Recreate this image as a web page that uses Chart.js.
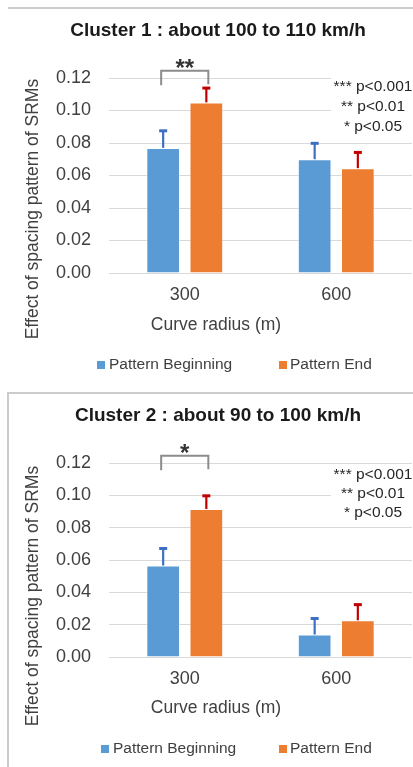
<!DOCTYPE html>
<html>
<head>
<meta charset="utf-8">
<script src="https://cdn.jsdelivr.net/npm/chart.js@4/dist/chart.umd.min.js"></script>
<style>
  html, body { margin: 0; padding: 0; background: #fff; }
  body { width: 413px; height: 767px; position: relative; overflow: hidden; }
  .frame { position: absolute; box-sizing: border-box; }
  #frame1 { left: 8px; top: 7px; width: 405px; height: 2px; background: #cccccc; }
  #frame2 { left: 7px; top: 392px; width: 406px; height: 375px; border-top: 2px solid #cccccc; border-left: 2px solid #cccccc; }
  canvas { position: absolute; left: 0; }
  #chart1 { top: 0; }
  #chart2 { top: 386px; }
</style>
</head>
<body>
<div class="frame" id="frame1"></div>
<div class="frame" id="frame2"></div>
<canvas id="chart1" width="413" height="386"></canvas>
<canvas id="chart2" width="413" height="381"></canvas>
<script>
// categories and series
const categories = ['300', '600'];
const seriesNames = ['Pattern Beginning', 'Pattern End'];

// Cluster 1 : about 100 to 110 km/h
const c1Beginning = [0.077, 0.070];
const c1BeginningErr = [0.0105, 0.0098];
const c1End = [0.105, 0.0645];
const c1EndErr = [0.0088, 0.0097];

// Cluster 2 : about 90 to 100 km/h
const c2Beginning = [0.0566, 0.0139];
const c2BeginningErr = [0.0105, 0.0099];
const c2End = [0.0915, 0.0227];
const c2EndErr = [0.0082, 0.0097];

const yMax = 0.12;
const yStep = 0.02;
const sigNotes = ['*** p<0.001', '** p<0.01', '* p<0.05'];

const FONT = "'Liberation Sans', Arial, sans-serif";
const BLUE = '#5b9bd5';
const ORANGE = '#ed7d31';
const TEXT = '#404040';

function makeChart(id, o) {
    const extras = {
        id: 'extras' + id,
        afterDatasetsDraw(chart) {
            const ctx = chart.ctx;
            const y = chart.scales.y;
            const metaA = chart.getDatasetMeta(0);
            const metaB = chart.getDatasetMeta(1);

            // error bars (upper whisker only)
            const errs = [[o.errA, metaA, '#3d6fc4'], [o.errB, metaB, '#c00000']];
            errs.forEach(([err, meta, col]) => {
                meta.data.forEach((bar, i) => {
                    const v = chart.data.datasets[meta.index].data[i];
                    const yTop = y.getPixelForValue(v + err[i]);
                    ctx.save();
                    ctx.strokeStyle = col;
                    ctx.lineWidth = 2.2;
                    ctx.beginPath();
                    ctx.moveTo(bar.x, bar.y);
                    ctx.lineTo(bar.x, yTop);
                    ctx.stroke();
                    ctx.lineWidth = 3;
                    ctx.beginPath();
                    ctx.moveTo(bar.x - 4, yTop);
                    ctx.lineTo(bar.x + 4, yTop);
                    ctx.stroke();
                    ctx.restore();
                });
            });

            // significance bracket over the 300 m pair
            const xl = metaA.data[0].x - 2;
            const xr = metaB.data[0].x + 2;
            const yb = y.getPixelForValue(0.1245);
            const yl = y.getPixelForValue(0.1155);
            ctx.save();
            ctx.strokeStyle = '#8c8c8c';
            ctx.lineWidth = 2;
            ctx.beginPath();
            ctx.moveTo(xl, yl);
            ctx.lineTo(xl, yb);
            ctx.lineTo(xr, yb);
            ctx.lineTo(xr, yl - 1);
            ctx.stroke();
            ctx.fillStyle = '#333333';
            ctx.font = 'bold 24px ' + FONT;
            ctx.textAlign = 'center';
            ctx.textBaseline = 'alphabetic';
            ctx.fillText(o.sig, (xl + xr) / 2, yb + 5);
            ctx.restore();

            // p-value note box
            ctx.save();
            ctx.fillStyle = '#ffffff';
            ctx.fillRect(331, o.noteY - 10, 82, 58);
            ctx.fillStyle = '#262626';
            ctx.font = '15.5px ' + FONT;
            ctx.textAlign = 'center';
            ctx.textBaseline = 'middle';
            sigNotes.forEach((t, i) => ctx.fillText(t, 373, o.noteY + i * o.noteGap));
            ctx.restore();
        },
        afterDraw(chart) {
            const ctx = chart.ctx;
            ctx.save();
            // title
            ctx.fillStyle = '#1a1a1a';
            ctx.font = 'bold 19px ' + FONT;
            ctx.textAlign = 'center';
            ctx.textBaseline = 'middle';
            ctx.fillText(o.title, 218, o.titleY);

            // axis titles
            ctx.fillStyle = TEXT;
            ctx.font = '17.5px ' + FONT;
            ctx.fillText('Curve radius (m)', 216, o.xTitleY);
            ctx.save();
            ctx.translate(33, o.yTitleY);
            ctx.rotate(-Math.PI / 2);
            ctx.fillText('Effect of spacing pattern of SRMs', 0, 0);
            ctx.restore();

            // legend
            ctx.font = '15.5px ' + FONT;
            ctx.textAlign = 'left';
            ctx.fillStyle = BLUE;
            ctx.fillRect(o.legA, o.legendY - 4, 8, 8);
            ctx.fillStyle = ORANGE;
            ctx.fillRect(279, o.legendY - 4, 8, 8);
            ctx.fillStyle = TEXT;
            ctx.fillText(seriesNames[0], o.legA + 12, o.legendY);
            ctx.fillText(seriesNames[1], 290, o.legendY);
            ctx.restore();
        }
    };

    return new Chart(document.getElementById(id), {
        type: 'bar',
        data: {
            labels: categories,
            datasets: [
                { label: seriesNames[0], data: o.a, backgroundColor: BLUE, borderColor: 'rgba(255,255,255,0.3)', borderWidth: 1 },
                { label: seriesNames[1], data: o.b, backgroundColor: ORANGE, borderColor: 'rgba(255,255,255,0.3)', borderWidth: 1 }
            ]
        },
        options: {
            responsive: false,
            animation: false,
            categoryPercentage: 0.57,
            barPercentage: 0.78,
            layout: { padding: { top: o.padTop, bottom: o.padBottom, left: 0, right: 1 } },
            plugins: {
                legend: { display: false },
                title: { display: false },
                tooltip: { enabled: false }
            },
            scales: {
                y: {
                    min: 0,
                    max: yMax,
                    ticks: {
                        stepSize: yStep,
                        callback: v => v.toFixed(2),
                        font: { family: FONT, size: 18 },
                        color: TEXT,
                        padding: 18
                    },
                    grid: { color: '#d9d9d9', lineWidth: 1, drawTicks: false },
                    border: { display: false },
                    afterFit: s => { s.width = 109; }
                },
                x: {
                    ticks: {
                        font: { family: FONT, size: 18 },
                        color: TEXT,
                        padding: 11
                    },
                    grid: { display: false, drawTicks: false },
                    border: { display: false },
                    afterFit: s => { s.height = 30; }
                }
            }
        },
        plugins: [extras]
    });
}

makeChart('chart1', {
    title: 'Cluster 1 : about 100 to 110 km/h',
    a: c1Beginning, errA: c1BeginningErr,
    b: c1End, errB: c1EndErr,
    sig: '**',
    padTop: 78, padBottom: 83,
    titleY: 31, xTitleY: 325, yTitleY: 209, legendY: 365, legA: 97,
    noteY: 87, noteGap: 20
});

makeChart('chart2', {
    title: 'Cluster 2 : about 90 to 100 km/h',
    a: c2Beginning, errA: c2BeginningErr,
    b: c2End, errB: c2EndErr,
    sig: '*',
    padTop: 77, padBottom: 80,
    titleY: 30, xTitleY: 322, yTitleY: 210, legendY: 363, legA: 101,
    noteY: 89, noteGap: 19
});
</script>
</body>
</html>
